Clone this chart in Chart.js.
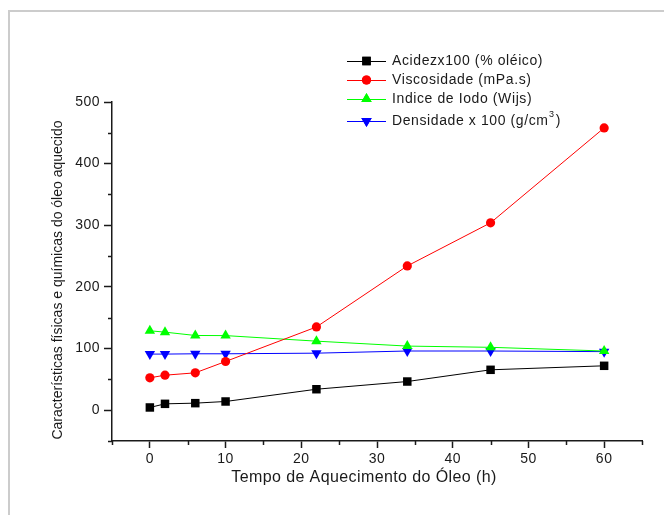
<!DOCTYPE html>
<html>
<head>
<meta charset="utf-8">
<script src="https://cdn.jsdelivr.net/npm/chart.js@4"></script>
<style>
html,body{margin:0;padding:0;background:#fff;}
#wrap{position:relative;width:664px;height:515px;}
</style>
</head>
<body>
<div id="wrap"><canvas id="c" width="664" height="515"></canvas></div>
<script>
const hours = [0, 2, 6, 10, 22, 34, 45, 60];
const acidez = [4.4, 10.3, 11.4, 14.1, 34, 46.5, 65.5, 72];
const viscosidade = [52.5, 56.8, 60.6, 79, 135, 234, 304, 458];
const iodo = [128.8, 126.6, 121.2, 121, 112, 104, 102, 96];
const densidade = [91, 91, 91.5, 91.5, 92.5, 96, 96, 95];
const seriesNames = ['Acidezx100 (% oléico)', 'Viscosidade (mPa.s)', 'Indice de Iodo (Wijs)', 'Densidade x 100 (g/cm'];
const yTicks = [0, 100, 200, 300, 400, 500];
const xTicks = [0, 10, 20, 30, 40, 50, 60];
const xTitle = 'Tempo de Aquecimento do Óleo (h)';
const yTitle = 'Características físicas e químicas do óleo aquecido';

const FONT = "'Liberation Sans', Arial, sans-serif";
const TXT = '#1a1a1a';

function pts(arr){ return hours.map((h,i)=>({x:h,y:arr[i]})); }

const styles = [
  {color:'#000000', pointStyle:'rect', radius:6, rot:0},
  {color:'#ff0000', pointStyle:'circle', radius:4.6, rot:0},
  {color:'#00ff00', pointStyle:'triangle', radius:6, rot:0},
  {color:'#0000ff', pointStyle:'triangle', radius:6, rot:180}
];
const dataArrays = [acidez, viscosidade, iodo, densidade];

const datasets = dataArrays.map((arr,i)=>({
  label: seriesNames[i],
  data: pts(arr),
  borderColor: styles[i].color,
  backgroundColor: styles[i].color,
  borderWidth: 1,
  pointStyle: styles[i].pointStyle,
  pointRadius: styles[i].radius,
  pointRotation: styles[i].rot,
  pointBorderWidth: 0,
  pointBackgroundColor: styles[i].color,
  tension: 0
}));

const extras = {
  id: 'extras',
  beforeDraw(chart){
    const ctx = chart.ctx;
    ctx.save();
    ctx.strokeStyle = '#cccccc';
    ctx.lineWidth = 2;
    ctx.beginPath();
    ctx.moveTo(9, 515);
    ctx.lineTo(9, 11);
    ctx.lineTo(664, 11);
    ctx.stroke();
    ctx.restore();
    ctx.letterSpacing = '0.5px';
  },
  afterDraw(chart){
    const ctx = chart.ctx;
    const xs = chart.scales.x, ys = chart.scales.y;
    ctx.save();
    ctx.strokeStyle = '#1a1a1a';
    ctx.lineWidth = 1.5;
    // minor ticks
    for (let v = -50; v <= 450; v += 100) {
      const py = Math.round(ys.getPixelForValue(v)) + 0.5;
      ctx.beginPath(); ctx.moveTo(xs.left, py); ctx.lineTo(xs.left - 4, py); ctx.stroke();
    }
    for (let v = -5; v <= 65; v += 10) {
      const px = Math.round(xs.getPixelForValue(v)) + 0.5;
      ctx.beginPath(); ctx.moveTo(px, ys.bottom); ctx.lineTo(px, ys.bottom + 4); ctx.stroke();
    }
    // axis titles
    ctx.fillStyle = TXT;
    ctx.textBaseline = 'middle';
    ctx.textAlign = 'center';
    ctx.letterSpacing = '0.4px';
    ctx.font = '16px ' + FONT;
    ctx.fillText(xTitle, 364, 478);
    ctx.save();
    ctx.translate(58, 280);
    ctx.rotate(-Math.PI / 2);
    ctx.letterSpacing = '0px';
    ctx.font = '14px ' + FONT;
    ctx.fillText(yTitle, 0, 0);
    ctx.restore();
    // legend
    const lx0 = 347, lx1 = 386, tx = 392;
    const rowsY = [61, 80, 99, 121];
    ctx.letterSpacing = '0.6px';
    ctx.font = '14px ' + FONT;
    ctx.textBaseline = 'middle';
    ctx.textAlign = 'left';
    rowsY.forEach((ry,i)=>{
      const st = styles[i];
      ctx.strokeStyle = st.color;
      ctx.lineWidth = 1;
      ctx.beginPath(); ctx.moveTo(lx0, ry + 0.5); ctx.lineTo(lx1, ry + 0.5); ctx.stroke();
      ctx.fillStyle = st.color;
      Chart.helpers.drawPoint(ctx, {pointStyle: st.pointStyle, radius: st.radius, rotation: st.rot, borderWidth: 0}, (lx0+lx1)/2, ry);
      ctx.fill();
      ctx.fillStyle = TXT;
      ctx.fillText(seriesNames[i], tx, ry);
      if (i === 3) {
        const w = ctx.measureText(seriesNames[i]).width;
        ctx.font = '9px ' + FONT;
        ctx.fillText('3', tx + w + 0.5, ry - 6);
        const w3 = ctx.measureText('3').width;
        ctx.font = '14px ' + FONT;
        ctx.fillText(')', tx + w + w3 + 1.5, ry);
      }
    });
    ctx.restore();
  }
};

new Chart(document.getElementById('c'), {
  type: 'line',
  data: { datasets },
  plugins: [extras],
  options: {
    responsive: false,
    animation: false,
    devicePixelRatio: 1,
    layout: { padding: { left: 0, right: 22, top: 102, bottom: 0 } },
    plugins: { legend: { display: false }, tooltip: { enabled: false } },
    scales: {
      x: {
        type: 'linear',
        min: -5, max: 65,
        afterFit(s){ s.height = 74; },
        afterBuildTicks(s){ s.ticks = xTicks.map(v=>({value:v})); },
        border: { display: true, color: '#1a1a1a', width: 1.5 },
        grid: { drawOnChartArea: false, drawTicks: true, tickLength: 7, tickColor: '#1a1a1a', tickWidth: 1.5 },
        ticks: { color: TXT, font: { family: FONT, size: 14 }, padding: 3, maxRotation: 0 },
        title: { display: false }
      },
      y: {
        type: 'linear',
        min: -50, max: 500,
        afterFit(s){ s.width = 112; },
        afterBuildTicks(s){ s.ticks = yTicks.map(v=>({value:v})); },
        border: { display: true, color: '#1a1a1a', width: 1.5 },
        grid: { drawOnChartArea: false, drawTicks: true, tickLength: 8, tickColor: '#1a1a1a', tickWidth: 1.5 },
        ticks: { color: TXT, font: { family: FONT, size: 14 }, padding: 4 },
        title: { display: false }
      }
    }
  }
});
</script>
</body>
</html>
